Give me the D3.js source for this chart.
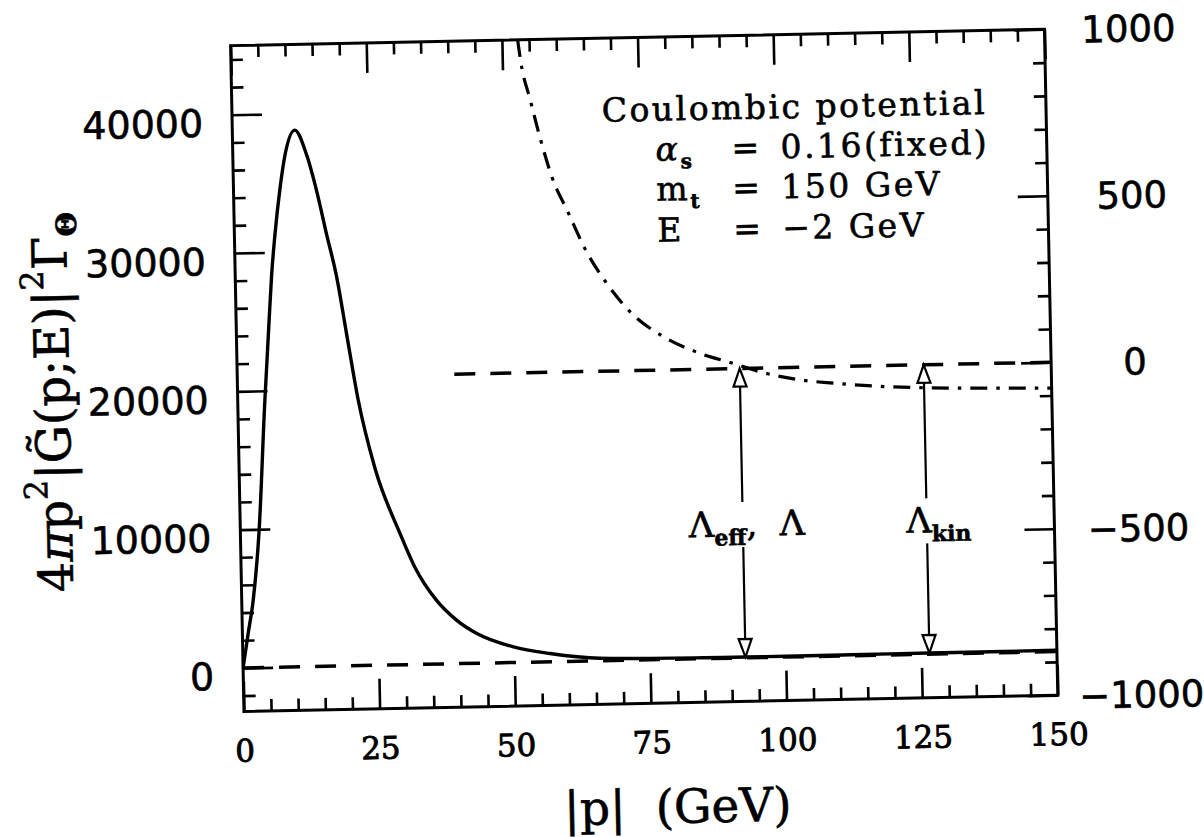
<!DOCTYPE html>
<html>
<head>
<meta charset="utf-8">
<script src="https://cdn.jsdelivr.net/npm/d3@7"></script>
<style>
  html, body { margin: 0; padding: 0; background: #fff; }
  svg { display: block; }
  text { fill: #000; stroke: #000; stroke-width: 0.6px; }
</style>
</head>
<body>
<svg id="chart" width="1204" height="837"></svg>
<script>
// |p| (GeV) and 4πp²|G̃(p;E)|²Γ_Θ of the Coulombic Green function (left axis)
const pSolid = [0, 1.07, 2.12, 3.42, 5.0, 5.45, 6.12, 6.72, 7.48, 8.57, 9.61, 11.5,
                13.6, 15.3, 17.0, 18.7, 20.3, 22.2, 25.0, 29.4, 32.0, 35.9, 39.5,
                43.2, 49.9, 56.6, 65.8, 75, 85, 92.6, 100, 112, 126.5, 140, 150];
const gSolid = [0, 2500, 4900, 9700, 19300, 21700, 25300, 28400, 31300, 34600, 37000, 38800,
                37000, 34400, 31200, 28100, 24000, 19200, 14300, 9500, 7050, 4600, 3150,
                2150, 1130, 600, 180, 100, 70, 60, 60, 70, 80, 90, 100];

// potential curve (right axis)
const pPot = [52.9, 53.4, 55.0, 56.7, 58.7, 61.6, 64.5, 68.4, 72.9, 78.7, 85.3, 91.4,
              96.3, 103.7, 110, 118.2, 125, 135, 147.9, 150];
const vPot = [1000, 934, 819, 703, 587, 478, 370, 264, 172, 100, 48, 16,
              -11, -38, -50, -62, -68, -73, -77, -78];

// reference line (right axis zero) starts here
const refLineStart = 40;

// momenta marked by the arrows and their labels
const arrowP = [92.6, 126.5];
const arrowLabels = [["Λ", "eff", ",  Λ"], ["Λ", "kin", ""]];

// axis ticks
const xTicks = [0, 25, 50, 75, 100, 125, 150];
const xMinor = d3.range(0, 151, 5).filter(v => v % 25 !== 0);
const yLeftTicks = [0, 10000, 20000, 30000, 40000];
const yLeftMinor = d3.range(-2000, 45001, 2000).filter(v => v % 10000 !== 0);
const yRightTicks = [-1000, -500, 0, 500, 1000];
const yRightMinor = d3.range(-900, 1000, 100).filter(v => v % 500 !== 0);

// parameter box
const title = "Coulombic potential";
const paramSymbols = ["α", "m", "E"];
const paramSubs = ["s", "t", ""];
const paramValues = ["0.16(fixed)", "150 GeV", "−2 GeV"];

// ---------------------------------------------------------------
const frame = { left: 237.2, right: 1051.2, top: 37.4, bottom: 703.4 };
const x = d3.scaleLinear().domain([0, 150]).range([frame.left, frame.right]);
const yL = d3.scaleLinear().domain([-3150, 45000]).range([frame.bottom, frame.top]);
const yR = d3.scaleLinear().domain([-1000, 1000]).range([frame.bottom, frame.top]);

const serif = "'DejaVu Serif', serif";
const sans = "'DejaVu Sans', sans-serif";

const svg = d3.select("#chart");
// the whole figure sits slightly tilted on the page
const g = svg.append("g").attr("transform", "rotate(-1.15 644.2 370.4)");

g.append("defs").append("clipPath").attr("id", "plot-clip")
  .append("rect")
  .attr("x", frame.left).attr("y", frame.top)
  .attr("width", frame.right - frame.left).attr("height", frame.bottom - frame.top);

// frame
g.append("rect")
  .attr("x", frame.left).attr("y", frame.top)
  .attr("width", frame.right - frame.left).attr("height", frame.bottom - frame.top)
  .attr("fill", "none").attr("stroke", "#000").attr("stroke-width", 3);

// inward tick marks on all four sides
const majorLen = 30, minorLen = 12;
function ticks(axisFn, scale, vals, len, tx) {
  g.append("g").attr("transform", tx)
    .call(axisFn(scale).tickValues(vals).tickSize(-len).tickFormat(""))
    .call(a => a.select(".domain").remove())
    .call(a => a.selectAll("line").attr("stroke", "#000").attr("stroke-width", 2.6));
}
ticks(d3.axisBottom, x, xTicks, majorLen, `translate(0,${frame.bottom})`);
ticks(d3.axisBottom, x, xMinor, minorLen, `translate(0,${frame.bottom})`);
ticks(d3.axisTop, x, xTicks, majorLen, `translate(0,${frame.top})`);
ticks(d3.axisTop, x, xMinor, minorLen, `translate(0,${frame.top})`);
ticks(d3.axisLeft, yL, yLeftTicks, majorLen, `translate(${frame.left},0)`);
ticks(d3.axisLeft, yL, yLeftMinor, minorLen, `translate(${frame.left},0)`);
ticks(d3.axisRight, yR, yRightTicks, majorLen, `translate(${frame.right},0)`);
ticks(d3.axisRight, yR, yRightMinor, minorLen, `translate(${frame.right},0)`);

// tick labels
g.append("g").attr("transform", `translate(0,${frame.bottom})`)
  .call(d3.axisBottom(x).tickValues(xTicks).tickSize(0).tickFormat(d3.format("d")))
  .call(a => a.select(".domain").remove())
  .call(a => a.selectAll("text")
    .attr("y", 50).attr("dy", 0).attr("fill", "#000")
    .style("font-family", serif).style("font-size", "31px").style("stroke-width", "0.9px"));

g.append("g").attr("transform", `translate(${frame.left},0)`)
  .call(d3.axisLeft(yL).tickValues(yLeftTicks).tickSize(0).tickFormat(d3.format("d")))
  .call(a => a.select(".domain").remove())
  .call(a => a.selectAll("text")
    .attr("x", -29).attr("dy", 21).attr("fill", "#000")
    .style("font-family", sans).style("font-size", "38px"));

g.append("g").attr("transform", `translate(${frame.right},0)`)
  .call(d3.axisRight(yR).tickValues(yRightTicks).tickSize(0)
    .tickFormat(d => d < 0 ? "−" + Math.abs(d) : String(d)))
  .call(a => a.select(".domain").remove())
  .call(a => a.selectAll("text")
    .attr("x", 84).attr("dy", 13.5).attr("text-anchor", "middle").attr("fill", "#000")
    .style("font-family", sans).style("font-size", "37px"));

// axis titles
g.append("text")
  .attr("x", 669).attr("y", 823.6).attr("text-anchor", "middle")
  .style("font-family", serif).style("font-size", "47px").style("white-space", "pre")
  .text("|p|  (GeV)");

// y title: built at the origin, then centred and fitted to its span along the axis
const yTitleSpan = 380;
const yTitle = g.append("g");
const yLab = yTitle.append("text")
  .style("font-family", serif).style("font-size", "48px");
yLab.append("tspan").text("4");
yLab.append("tspan").style("font-style", "italic").text("π");
yLab.append("tspan").text("p");
yLab.append("tspan").attr("dy", -24).style("font-size", "32px").text("2");
yLab.append("tspan").attr("dy", 24).text("|G\u0303(p;E)|");
yLab.append("tspan").attr("dy", -24).style("font-size", "32px").text("2");
yLab.append("tspan").attr("dy", 24).text("Γ");
yLab.append("tspan").attr("dy", 10).style("font-size", "28px").style("font-weight", "bold").text("Θ");
const yb = yLab.node().getBBox();
const ys = yTitleSpan / yb.width;
yLab.attr("x", -yb.x - yb.width / 2);
yTitle.attr("transform", `translate(69,390.5) rotate(-90) scale(${ys},1)`);

// zero lines
const plot = g.append("g").attr("clip-path", "url(#plot-clip)");
plot.append("line")
  .attr("x1", x(0)).attr("x2", x(150))
  .attr("y1", yL(0)).attr("y2", yL(0))
  .attr("stroke", "#000").attr("stroke-width", 3.5).attr("stroke-dasharray", "21,15");
plot.append("line")
  .attr("x1", x(refLineStart)).attr("x2", x(150))
  .attr("y1", yR(0)).attr("y2", yR(0))
  .attr("stroke", "#000").attr("stroke-width", 3.5).attr("stroke-dasharray", "21,15");

// Green function curve
const solidData = pSolid.map((p, i) => [p, gSolid[i]]);
plot.append("path")
  .datum(solidData)
  .attr("fill", "none").attr("stroke", "#000").attr("stroke-width", 3.4)
  .attr("stroke-linejoin", "round")
  .attr("d", d3.line().x(d => x(d[0])).y(d => yL(d[1])).curve(d3.curveMonotoneX));

// potential curve (dash-dot)
const potData = pPot.map((p, i) => [p, vPot[i]]);
plot.append("path")
  .datum(potData)
  .attr("fill", "none").attr("stroke", "#000").attr("stroke-width", 3.2)
  .attr("stroke-dasharray", "17,9,3.5,9")
  .attr("d", d3.line().x(d => x(d[0])).y(d => yR(d[1])).curve(d3.curveMonotoneX));

// arrows between the right-axis zero and the Green function curve
function solidAt(p) {
  const i = Math.max(1, d3.bisectLeft(pSolid, p));
  const t = (p - pSolid[i - 1]) / (pSolid[i] - pSolid[i - 1]);
  return gSolid[i - 1] + t * (gSolid[i] - gSolid[i - 1]);
}
const headLen = 18, headHalf = 6.5;
const labelDx = [4, 12];
arrowP.forEach((p, k) => {
  const ax = x(p);
  const yTop = yR(0);
  const yBot = yL(solidAt(p));
  const labelY = 538;
  const gapTop = labelY - 34, gapBot = labelY + 11;
  const a = g.append("g").attr("stroke", "#000").attr("stroke-width", 2.2);
  a.append("line").attr("x1", ax).attr("x2", ax).attr("y1", yTop + headLen).attr("y2", gapTop);
  a.append("line").attr("x1", ax).attr("x2", ax).attr("y1", gapBot).attr("y2", yBot - headLen);
  a.append("path").attr("fill", "#fff")
    .attr("d", `M${ax},${yTop}L${ax - headHalf},${yTop + headLen}L${ax + headHalf},${yTop + headLen}Z`);
  a.append("path").attr("fill", "#fff")
    .attr("d", `M${ax},${yBot}L${ax - headHalf},${yBot - headLen}L${ax + headHalf},${yBot - headLen}Z`);

  const [main, sub, rest] = arrowLabels[k];
  const t = g.append("text")
    .attr("x", ax + labelDx[k]).attr("y", labelY).attr("text-anchor", "middle")
    .style("font-family", serif).style("font-size", "35px").style("white-space", "pre");
  t.append("tspan").text(main);
  t.append("tspan").attr("dy", 9).style("font-size", "22px").style("font-weight", "bold").text(sub);
  if (rest) t.append("tspan").attr("dy", -9).text(rest);
});

// parameter box
const box = g.append("g")
  .style("font-family", serif).style("font-size", "33px").style("letter-spacing", "2.5px");
box.append("text").attr("x", 607).attr("y", 121).text(title);
const rowY = [161, 201, 242];
paramSymbols.forEach((s, i) => {
  const t = box.append("text").attr("x", 660).attr("y", rowY[i]);
  t.append("tspan").style("font-style", s === "α" ? "italic" : "normal").text(s);
  if (paramSubs[i]) {
    t.append("tspan").attr("dy", 8).style("font-size", "20px").style("font-weight", "bold")
      .text(paramSubs[i]);
  }
  box.append("text").attr("x", 736).attr("y", rowY[i]).text("=");
  box.append("text").attr("x", 785).attr("y", rowY[i]).text(paramValues[i]);
});
</script>
</body>
</html>
